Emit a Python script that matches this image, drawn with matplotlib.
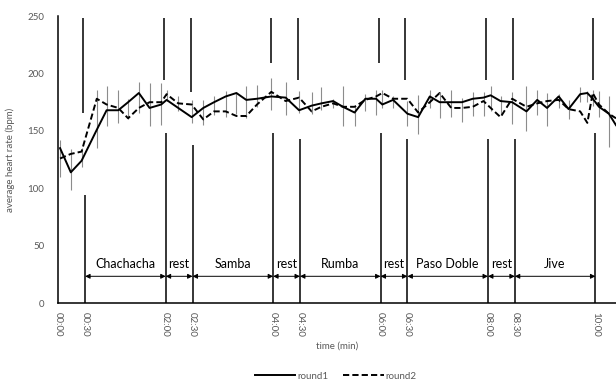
import matplotlib
matplotlib.use("Agg")
import matplotlib.pyplot as plt

# ---- data ----
times = [2, 14, 26, 43, 54, 67, 78, 90, 102, 115, 121, 134, 149, 162, 174, 187, 199, 210, 222,
         238, 254, 269, 283, 294, 307, 318, 331, 343, 355, 362, 374, 390, 402, 415, 426, 439,
         451, 463, 475, 483, 494, 507, 523, 535, 546, 559, 570, 583, 591, 597, 604, 615, 623]
round1 = [135, 114, 124, 151, 168, 168, 175, 183, 170, 173, 177, 170, 162, 170, 175, 180, 183, 177, 178,
          180, 179, 168, 172, 174, 176, 171, 166, 178, 178, 173, 177, 165, 162, 180, 175, 175,
          175, 178, 179, 181, 176, 175, 167, 177, 170, 180, 169, 182, 183, 178, 171, 165, 155]
round2 = [126, 130, 132, 178, 173, 170, 161, 170, 175, 175, 182, 174, 173, 160, 167, 167, 163, 163, 173,
          184, 176, 179, 167, 171, 174, 171, 171, 177, 180, 183, 178, 178, 166, 175, 183, 170,
          170, 171, 176, 170, 162, 178, 171, 174, 176, 177, 169, 167, 157, 183, 173, 165, 161]
bar_low = [110, 99, 119, 135, 154, 157, 160, 166, 154, 155, 176, 167, 157, 155, 164, 162, 165, 161, 171,
           168, 164, 166, 165, 168, 170, 154, 154, 167, 164, 170, 170, 154, 147, 170, 161, 162,
           158, 163, 163, 167, 165, 156, 150, 164, 154, 170, 160, 175, 175, 172, 162, 136, None]
bar_high = [142, 134, 135, 186, 189, 186, 178, 193, 192, 192, 186, 180, 177, 177, 180, 185, 184, 189, 190,
            196, 193, 185, 184, 188, 178, 189, 172, 182, 186, 186, 180, 176, 181, 186, 184, 186,
            179, 184, 184, 189, 180, 184, 189, 186, 183, 182, 177, 188, 185, 186, 185, 180, None]

tick_secs = [0, 30, 120, 150, 240, 270, 360, 390, 480, 510, 600]
tick_labels = ["00:00", "00:30", "02:00", "02:30", "04:00", "04:30",
               "06:00", "06:30", "08:00", "08:30", "10:00"]

boundary_secs = [30, 120, 150, 240, 270, 360, 390, 480, 510, 600]
lower_tops = [94, 148, 138, 148, 143, 148, 143, 143, 143, 148]
upper_bottoms = [165.5, 194.5, 183.5, 209.5, 194.5, 209.5, 194.5, 194.5, 194.5, 194.5]

phase_names = ["Chachacha", "rest", "Samba", "rest", "Rumba", "rest", "Paso Doble", "rest", "Jive"]
phase_starts = [30, 120, 150, 240, 270, 360, 390, 480, 510]
phase_ends = [120, 150, 240, 270, 360, 390, 480, 510, 600]

# ---- figure ----
plt.rcParams['font.family'] = ['Lato', 'DejaVu Sans']
fig = plt.figure(figsize=(6.16, 3.85), dpi=100)
ax = fig.add_axes([0.0946, 0.2122, 0.9054, 0.7462])

gray = '#595959'

# error bars
for t, lo, hi in zip(times, bar_low, bar_high):
    if lo is None:
        continue
    ax.vlines(t, lo, hi, color='#8c8c8c', lw=0.8, zorder=2)

ax.plot(times, round1, color='black', lw=1.4, label='round1', zorder=4)
ax.plot(times, round2, color='black', lw=1.4, ls=(0, (3.2, 1.6)), label='round2', zorder=3)

# phase boundaries
for b, lt, ub in zip(boundary_secs, lower_tops, upper_bottoms):
    ax.vlines(b, 0, lt, color='black', lw=1.1, zorder=5)
    ax.vlines(b - 2.2, ub, 248, color='black', lw=1.1, zorder=5)

# phase arrows and labels
for name, s, e in zip(phase_names, phase_starts, phase_ends):
    ax.annotate('', xy=(e, 23.5), xytext=(s, 23.5),
                arrowprops=dict(arrowstyle='<|-|>', color='black', lw=0.7,
                                mutation_scale=7, shrinkA=0, shrinkB=0))
    ax.text((s + e) / 2, 34, name, ha='center', va='center', fontsize=9, color='black')

ax.set_xlim(0, 623)
ax.set_ylim(0, 250)
ax.set_yticks([0, 50, 100, 150, 200, 250])
ax.set_xticks(tick_secs)
ax.set_xticklabels(tick_labels, rotation=-90)
ax.tick_params(axis='both', length=0, colors=gray, labelsize=7)
ax.tick_params(axis='y', pad=10)
ax.tick_params(axis='x', pad=6)

for side in ['top', 'right']:
    ax.spines[side].set_visible(False)
ax.spines['left'].set_color('black')
ax.spines['bottom'].set_color('black')
ax.spines['left'].set_linewidth(1.1)
ax.spines['bottom'].set_linewidth(1.1)

ax.set_ylabel('average heart rate (bpm)', color=gray, fontsize=7, labelpad=9)
ax.set_xlabel('time (min)', color=gray, fontsize=7, labelpad=4)

leg = fig.legend(loc='lower center', bbox_to_anchor=(0.545, -0.012), ncol=2, frameon=False,
                 fontsize=7, handlelength=4.2, handletextpad=0.2, columnspacing=1.5)
for txt in leg.get_texts():
    txt.set_color(gray)

fig.savefig('out.png', dpi=100)
